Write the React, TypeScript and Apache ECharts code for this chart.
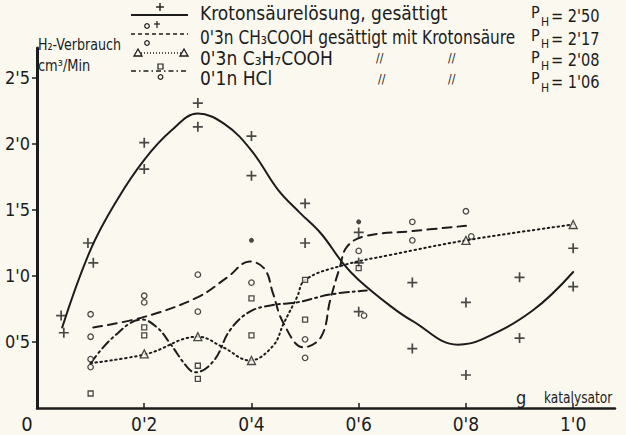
import React, { useEffect, useRef } from 'react';
import * as echarts from 'echarts';

const FONT = "'Liberation Sans Narrow', 'DejaVu Sans Condensed', 'Noto Sans', sans-serif";
const INK = '#1c1c1c';
const BG = '#fbf9ef';

// axis ticks
const xTicks = [0, 0.2, 0.4, 0.6, 0.8, 1.0];
const yTicks = [0.5, 1.0, 1.5, 2.0, 2.5];

// fitted curves
const solidCurve: [number, number][] = [
  [0.047, 0.61], [0.1, 1.2], [0.15, 1.58], [0.2, 1.88], [0.25, 2.1], [0.3, 2.23], [0.35, 2.15],
  [0.4, 1.95], [0.45, 1.65], [0.49, 1.48], [0.53, 1.32], [0.57, 1.1], [0.6, 0.97], [0.66, 0.77],
  [0.7, 0.66], [0.785, 0.48], [0.83, 0.52], [0.925, 0.74], [1.0, 1.03],
];
const dashedCurve: [number, number][] = [
  [0.105, 0.61], [0.2, 0.69], [0.3, 0.84], [0.355, 0.99], [0.397, 1.11], [0.425, 1.05], [0.44, 0.87],
  [0.46, 0.64], [0.497, 0.46], [0.53, 0.54], [0.547, 0.82], [0.565, 1.07], [0.578, 1.22], [0.61, 1.3],
  [0.7, 1.34], [0.8, 1.38],
];
const dottedCurve: [number, number][] = [
  [0.1, 0.34], [0.205, 0.41], [0.3, 0.54], [0.347, 0.46], [0.397, 0.36], [0.44, 0.47], [0.46, 0.64],
  [0.485, 0.84], [0.5, 0.97], [0.57, 1.08], [0.66, 1.16], [0.8, 1.27], [1.0, 1.39],
];
const dashDotCurve: [number, number][] = [
  [0.1, 0.34], [0.143, 0.54], [0.196, 0.67], [0.224, 0.61], [0.248, 0.49], [0.28, 0.31], [0.295, 0.27],
  [0.33, 0.36], [0.36, 0.59], [0.397, 0.73], [0.44, 0.78], [0.485, 0.8], [0.547, 0.86], [0.615, 0.89],
];

// measured points
const plusPoints: [number, number][] = [
  [0.045, 0.7], [0.05, 0.57], [0.095, 1.25], [0.105, 1.1], [0.2, 2.01], [0.2, 1.81], [0.3, 2.31],
  [0.3, 2.13], [0.4, 2.06], [0.4, 1.76], [0.5, 1.55], [0.5, 1.25], [0.6, 1.33], [0.6, 1.1], [0.6, 0.73],
  [0.7, 0.95], [0.7, 0.45], [0.8, 0.8], [0.8, 0.25], [0.9, 0.99], [0.9, 0.53], [1.0, 1.21], [1.0, 0.92],
];
const circlePoints: [number, number][] = [
  [0.1, 0.71], [0.1, 0.54], [0.1, 0.37], [0.1, 0.31], [0.2, 0.85], [0.2, 0.8], [0.3, 1.01], [0.3, 0.73],
  [0.4, 0.95], [0.5, 0.52], [0.5, 0.38], [0.6, 1.19], [0.61, 0.7], [0.7, 1.41], [0.7, 1.27], [0.8, 1.49],
  [0.81, 1.3],
];
const squarePoints: [number, number][] = [
  [0.1, 0.11], [0.2, 0.61], [0.2, 0.55], [0.3, 0.32], [0.3, 0.22], [0.4, 0.83], [0.4, 0.55], [0.5, 0.97],
  [0.5, 0.67], [0.6, 1.06],
];
const trianglePoints: [number, number][] = [
  [0.2, 0.41], [0.3, 0.54], [0.4, 0.36], [0.8, 1.27], [1.0, 1.39],
];
const filledPoints: [number, number][] = [[0.4, 1.27], [0.6, 1.41]];

const fmt = (v: number) => v.toFixed(1).replace('.', "'");

const txt = (x: number, y: number, text: string, size = 18, extra: any = {}, scaleX = 1) => ({
  type: 'text',
  x,
  y,
  scaleX,
  style: { text, fill: INK, font: `${size}px ${FONT}`, textVerticalAlign: 'middle', ...extra },
});

export default function App() {
  const ref = useRef<HTMLDivElement>(null);
  useEffect(() => {
    document.body.style.margin = '0';
    const chart = echarts.init(ref.current!, null, { renderer: 'svg' });
    const lineSeries = (data: [number, number][], type: any, width = 2) => ({
      type: 'line',
      data,
      smooth: 0.4,
      symbol: 'none',
      lineStyle: { color: INK, width, type, cap: 'round' },
      z: 2,
    });
    const marker = { color: BG, borderColor: INK, borderWidth: 1.3 };
    const option: any = {
      animation: false,
      backgroundColor: BG,
      grid: { left: 37, right: 11, top: 48, bottom: 27, containLabel: false },
      xAxis: {
        type: 'value',
        min: 0,
        max: 1.078,
        axisLine: { show: true, lineStyle: { color: INK, width: 2.5 } },
        axisTick: { show: true, inside: true, length: 5, customValues: xTicks.slice(1), lineStyle: { color: INK, width: 1.5 } },
        axisLabel: {
          customValues: xTicks,
          color: INK,
          fontFamily: FONT,
          fontSize: 19,
          margin: 6,
          formatter: (v: number) => (v === 0 ? '{o|0}' : fmt(v)),
          rich: { o: { fontFamily: FONT, fontSize: 20, color: INK, padding: [0, 20, 0, 0] } },
        },
        splitLine: { show: false },
      },
      yAxis: {
        type: 'value',
        min: 0,
        max: 2.727,
        axisLine: { show: true, lineStyle: { color: INK, width: 3 } },
        axisTick: { show: true, length: 5, customValues: yTicks, lineStyle: { color: INK, width: 1.5 } },
        axisLabel: { customValues: yTicks, color: INK, fontFamily: FONT, fontSize: 18, margin: 7, formatter: fmt },
        splitLine: { show: false },
      },
      series: [
        lineSeries(solidCurve, 'solid', 2),
        lineSeries(dashedCurve, [9, 6], 2),
        lineSeries(dottedCurve, [1.5, 3.5], 2),
        lineSeries(dashDotCurve, [9, 4, 2, 4], 2),
        {
          type: 'scatter',
          data: plusPoints,
          symbol: 'path://M5 0V10M0 5H10',
          symbolSize: 10,
          itemStyle: { color: 'none', borderColor: INK, borderWidth: 1.7 },
          z: 3,
        },
        { type: 'scatter', data: circlePoints, symbol: 'circle', symbolSize: 5.5, itemStyle: marker, z: 3 },
        { type: 'scatter', data: squarePoints, symbol: 'rect', symbolSize: 5, itemStyle: marker, z: 3 },
        { type: 'scatter', data: trianglePoints, symbol: 'triangle', symbolSize: 8, itemStyle: marker, z: 3 },
        { type: 'scatter', data: filledPoints, symbol: 'circle', symbolSize: 5, itemStyle: { color: INK }, z: 3 },
      ],
      graphic: [
        // axis captions
        txt(38, 45, 'H₂-Verbrauch', 16, {}, 0.88),
        txt(38, 66, 'cm³/Min', 16, {}, 0.9),
        txt(516, 397, 'g', 18),
        txt(544, 397, 'katalysator', 16, {}, 0.85),
        // legend samples
        { type: 'line', shape: { x1: 131, y1: 15, x2: 188, y2: 15 }, style: { stroke: INK, lineWidth: 1.8 } },
        { type: 'line', shape: { x1: 160, y1: 3, x2: 160, y2: 11 }, style: { stroke: INK, lineWidth: 1.4 } },
        { type: 'line', shape: { x1: 156, y1: 7, x2: 164, y2: 7 }, style: { stroke: INK, lineWidth: 1.4 } },
        { type: 'circle', shape: { cx: 147, cy: 26, r: 2.3 }, style: { fill: BG, stroke: INK, lineWidth: 1.2 } },
        { type: 'line', shape: { x1: 157, y1: 21, x2: 157, y2: 28 }, style: { stroke: INK, lineWidth: 1.2 } },
        { type: 'line', shape: { x1: 154, y1: 24, x2: 160, y2: 24 }, style: { stroke: INK, lineWidth: 1.2 } },
        { type: 'line', shape: { x1: 131, y1: 34, x2: 188, y2: 34 }, style: { stroke: INK, lineWidth: 1.5, lineDash: [4, 3] } },
        { type: 'circle', shape: { cx: 147, cy: 43, r: 2.3 }, style: { fill: BG, stroke: INK, lineWidth: 1.2 } },
        { type: 'line', shape: { x1: 138, y1: 53, x2: 183, y2: 53 }, style: { stroke: INK, lineWidth: 1.5, lineDash: [1, 2] } },
        { type: 'polygon', shape: { points: [[134, 56], [138, 49], [142, 56]] }, style: { fill: BG, stroke: INK, lineWidth: 1.3 } },
        { type: 'polygon', shape: { points: [[180, 56], [184, 49], [188, 56]] }, style: { fill: BG, stroke: INK, lineWidth: 1.3 } },
        { type: 'line', shape: { x1: 131, y1: 71, x2: 188, y2: 71 }, style: { stroke: INK, lineWidth: 1.5, lineDash: [5, 3, 1.5, 3] } },
        { type: 'rect', shape: { x: 158, y: 64, width: 5, height: 5 }, style: { fill: BG, stroke: INK, lineWidth: 1.2 } },
        { type: 'circle', shape: { cx: 160.5, cy: 77, r: 2.3 }, style: { fill: BG, stroke: INK, lineWidth: 1.2 } },
        // legend texts
        txt(200, 13, 'Krotonsäurelösung, gesättigt', 19),
        txt(200, 37, "0'3n CH₃COOH gesättigt mit Krotonsäure", 19, {}, 0.9),
        txt(200, 58, "0'3n C₃H₇COOH", 19),
        txt(200, 78, "0'1n HCl", 19),
        txt(376, 58, '//', 12, { fontStyle: 'italic' }),
        txt(448, 58, '//', 12, { fontStyle: 'italic' }),
        txt(378, 79, '//', 12, { fontStyle: 'italic' }),
        txt(448, 79, '//', 12, { fontStyle: 'italic' }),
        // pH column
        txt(531, 12, 'P', 16),
        txt(541, 22, 'H', 12),
        txt(551, 16, "= 2'50", 18, {}, 0.9),
        txt(531, 35, 'P', 16),
        txt(541, 44, 'H', 12),
        txt(551, 39, "= 2'17", 18, {}, 0.9),
        txt(531, 57, 'P', 16),
        txt(541, 66, 'H', 12),
        txt(551, 60, "= 2'08", 18, {}, 0.9),
        txt(531, 78, 'P', 16),
        txt(541, 88, 'H', 12),
        txt(551, 82, "= 1'06", 18, {}, 0.9),
      ],
    };
    chart.setOption(option);
    return () => chart.dispose();
  }, []);
  return <div ref={ref} style={{ width: 626, height: 435, background: BG }} />;
}
